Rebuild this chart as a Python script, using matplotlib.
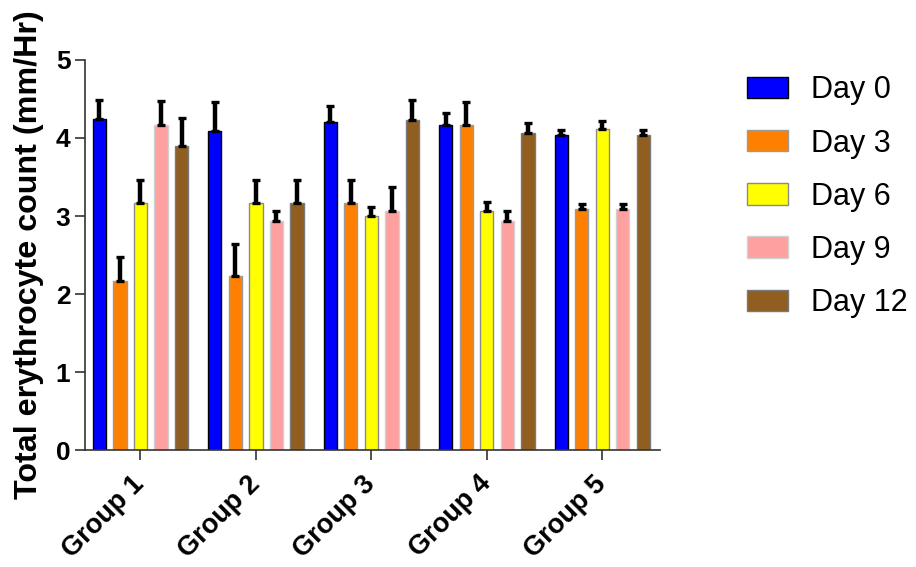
import matplotlib
matplotlib.use('Agg')
import matplotlib.pyplot as plt
import matplotlib.transforms as mtransforms
import numpy as np

plt.rcParams['font.family'] = ['Liberation Sans', 'DejaVu Sans']

groups = ['Group 1', 'Group 2', 'Group 3', 'Group 4', 'Group 5']
days = ['Day 0', 'Day 3', 'Day 6', 'Day 9', 'Day 12']

# mean erythrocyte count per day, one list per day (groups 1..5)
day0 = [4.24, 4.09, 4.20, 4.17, 4.04]
day3 = [2.17, 2.23, 3.17, 4.17, 3.09]
day6 = [3.17, 3.17, 3.00, 3.06, 4.11]
day9 = [4.17, 2.93, 3.06, 2.93, 3.09]
day12 = [3.90, 3.17, 4.23, 4.06, 4.04]

# upper error (SEM)
err0 = [0.25, 0.37, 0.21, 0.15, 0.06]
err3 = [0.30, 0.41, 0.29, 0.29, 0.07]
err6 = [0.29, 0.29, 0.11, 0.12, 0.11]
err9 = [0.30, 0.13, 0.31, 0.13, 0.07]
err12 = [0.36, 0.29, 0.26, 0.13, 0.06]

means = [day0, day3, day6, day9, day12]
errors = [err0, err3, err6, err9, err12]
colors = ['#0000FF', '#FF8000', '#FFFF00', '#FFA0A0', '#8F5E20']
edges = ['#000000', '#9A9A9A', '#8A8A8A', '#D0D0D0', '#7A7A7A']

fig = plt.figure(figsize=(9.16, 5.67), dpi=100)
ax = fig.add_axes((0.0928, 0.2063, 0.6277, 0.6879))

x = np.arange(len(groups))
step = 0.178
width = 0.115
for i, (m, e) in enumerate(zip(means, errors)):
    pos = x + (i - 2) * step
    ax.bar(pos, m, width, color=colors[i], edgecolor=edges[i],
           linewidth=1.0, label=days[i], zorder=2)
    ax.errorbar(pos, m, yerr=[np.zeros(len(e)), e], fmt='none',
                ecolor='black', elinewidth=3.2, capsize=3.0,
                capthick=2.4, zorder=3)

ax.set_xlim(-0.48, 4.5)
ax.set_ylim(0, 5)
ax.set_yticks(range(6))
ax.set_xticks(x)
ax.set_xticklabels(groups, rotation=45, ha='right', va='center',
                   rotation_mode='anchor', fontsize=19.5, fontweight='bold')
shift = mtransforms.ScaledTranslation(0.06, 0, fig.dpi_scale_trans)
for lab in ax.get_xticklabels():
    lab.set_transform(lab.get_transform() + shift)
for lab in ax.get_yticklabels():
    lab.set_fontsize(19)
    lab.set_fontweight('bold')

ax.set_ylabel('Total erythrocyte count (mm/Hr)', fontsize=23.2,
              fontweight='bold')
ax.yaxis.set_label_coords(-0.0713, 0.5)

for side in ('top', 'right'):
    ax.spines[side].set_visible(False)
for side in ('left', 'bottom'):
    ax.spines[side].set_linewidth(1.2)
    ax.spines[side].set_color('#333333')
ax.tick_params(axis='both', length=7, width=1.2, color='#333333')
ax.tick_params(axis='x', pad=14.5)

ax.legend(loc='upper left', bbox_to_anchor=(0.816, 0.867),
          bbox_transform=fig.transFigure, frameon=False, fontsize=22,
          handlelength=1.34, handleheight=0.69, handletextpad=0.75,
          labelspacing=0.756, borderpad=0, borderaxespad=0)

fig.savefig('out.png', dpi=100)
